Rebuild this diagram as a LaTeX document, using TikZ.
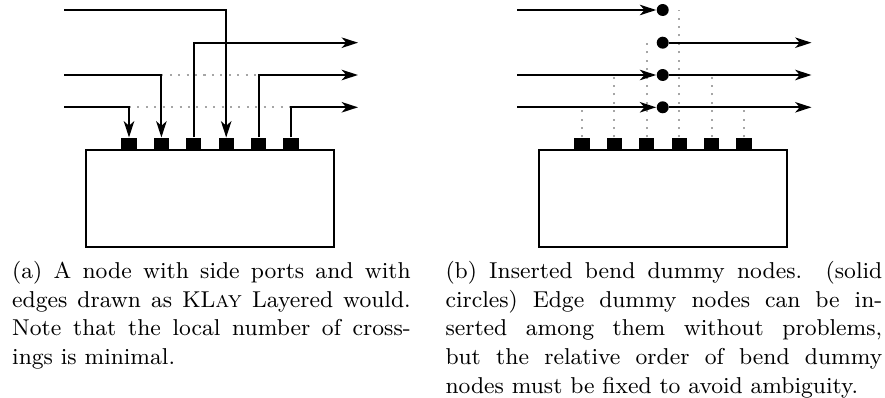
\documentclass[tikz,border=0pt]{standalone}
\usetikzlibrary{arrows.meta}
\begin{document}
\begin{tikzpicture}[x=0.392pt,y=-0.392pt,
  edge/.style={line width=0.8pt,-{Stealth[length=6.4pt,width=4.1pt,inset=1.8pt]}},
  dummyline/.style={draw=gray!70,line width=0.8pt,dash pattern=on 0.8pt off 2.5pt},
  portbox/.style={fill=black,inner sep=0pt,minimum width=5.9pt,minimum height=4.7pt},
  mainnode/.style={draw,line width=0.8pt,inner sep=0pt,minimum width=97.3pt,minimum height=37.9pt},
  benddummy/.style={circle,fill=black,inner sep=0pt,minimum size=4.7pt},
  captiontext/.style={anchor=north west,inner sep=0pt,align=justify,font=\fontsize{9}{11.2}\selectfont}]
\useasboundingbox (0,0) rectangle (885,398);

% ---------------- (a) node with side ports ----------------
\node[mainnode] (na) at (209.85,198.35) {};
\foreach \i/\x in {1/129,2/161.4,3/193.8,4/226.2,5/258.6,6/291}
  \node[portbox] (pa\i) at (\x,144) {};
\coordinate (la1) at (64,10);
\coordinate (la3) at (64,75);
\coordinate (la4) at (64,107.3);
\coordinate (ra2) at (358,42.7);
\coordinate (ra3) at (358,75);
\coordinate (ra4) at (358,107.3);

\draw[dummyline] (pa2.north |- la3) -- (pa5.north |- la3);
\draw[dummyline] (pa1.north |- la4) -- (pa6.north |- la4);

\draw[edge] (la1) -| (pa4.north);
\draw[edge] (pa3.north) |- (ra2);
\draw[edge] (la3) -| (pa2.north);
\draw[edge] (pa5.north) |- (ra3);
\draw[edge] (la4) -| (pa1.north);
\draw[edge] (pa6.north) |- (ra4);

% ---------------- (b) bend dummy nodes ----------------
\node[mainnode] (nb) at (662.85,198.35) {};
\foreach \i/\x in {1/582,2/614.4,3/646.8,4/679.2,5/711.6,6/744}
  \node[portbox] (pb\i) at (\x,144) {};
\node[benddummy] (c1) at (662.7,10) {};
\node[benddummy] (c2) at (662.7,42.7) {};
\node[benddummy] (c3) at (662.7,75) {};
\node[benddummy] (c4) at (662.7,107.3) {};
\coordinate (lb1) at (517,10);
\coordinate (lb3) at (517,75);
\coordinate (lb4) at (517,107.3);
\coordinate (rb2) at (811.5,42.7);
\coordinate (rb3) at (811.5,75);
\coordinate (rb4) at (811.5,107.3);

\draw[dummyline] (pb1.north) -- (pb1.north |- c4);
\draw[dummyline] (pb2.north) -- (pb2.north |- c3);
\draw[dummyline] (pb3.north) -- (pb3.north |- c2);
\draw[dummyline] (pb4.north) -- (pb4.north |- c1);
\draw[dummyline] (pb5.north) -- (pb5.north |- c3);
\draw[dummyline] (pb6.north) -- (pb6.north |- c4);

\draw[edge] (lb1) -- (c1);
\draw[edge] (c2) -- (rb2);
\draw[edge] (lb3) -- (c3);
\draw[edge] (c3) -- (rb3);
\draw[edge] (lb4) -- (c4);
\draw[edge] (c4) -- (rb4);

% ---------------- captions ----------------
\node[captiontext,text width=156.2pt] (capa) at (11.7,261.1)
  {(a) A node with side ports and with\linebreak
   edges drawn as KL\textsc{ay} Layered would.\linebreak
   Note that the local number of cross-\linebreak
   ings is minimal.};
\node[captiontext,text width=171.2pt] (capb) at (445,261.1)
  {(b) Inserted bend dummy nodes. (solid\linebreak
   circles) Edge dummy nodes can be in-\linebreak
   serted among them without problems,\linebreak
   but the relative order of bend dummy\linebreak
   nodes must be fixed to avoid ambiguity.};
\end{tikzpicture}
\end{document}
